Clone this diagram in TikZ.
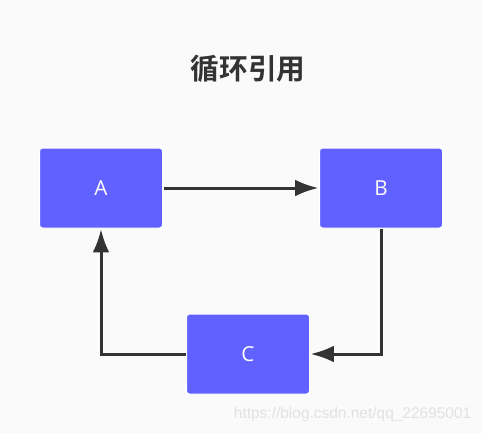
\documentclass[tikz,border=0pt]{standalone}
\usepackage{fontspec}
\setmainfont{Liberation Sans}
\newfontfamily\cjkbold{Noto Sans CJK SC Bold}
\newfontfamily\labelfont{Open Sans}
\usetikzlibrary{arrows.meta,positioning}
\definecolor{bg_gray}{HTML}{FAFAFA}
\definecolor{box_blue}{HTML}{6161FF}
\definecolor{line_dark}{HTML}{333333}
\definecolor{mark_gray}{HTML}{E2E2E2}
\tikzset{
  ref_box/.style={draw=white, line width=0.75pt, fill=box_blue, rounded corners=2.25pt,
    minimum width=92.25pt, minimum height=60pt, inner sep=0pt, outer sep=0.75pt,
    text=white, font=\labelfont\fontsize{15.5}{18}\selectfont},
  ref_arrow/.style={draw=line_dark, line width=2.25pt,
    -{Latex[length=17.5pt,width=12.5pt]}}
}
\begin{document}
\begin{tikzpicture}[x=0.75pt,y=-0.75pt]
    % background
  \fill[bg_gray] (0,0) rectangle (482,433);
  \useasboundingbox (0,0) rectangle (482,433);
    % title
  \node[text=line_dark, font=\cjkbold\fontsize{21.5}{24}\selectfont] (title) at (248,69) {循环引用};
    % boxes
  \node[ref_box] (obj_a) at (101,188) {A};
  \node[ref_box] (obj_b) at (381,188) {B};
  \node[ref_box] (obj_c) at (248,354) {C};
    % references
  \draw[ref_arrow] (obj_a.east) -- (obj_b.west);
  \draw[ref_arrow] (obj_b.south) |- (obj_c.east);
  \draw[ref_arrow] (obj_c.west) -| (obj_a.south);
    % watermark
  \node[text=mark_gray, font=\fontsize{11.6}{14}\selectfont, anchor=base east] (mark) at (476,418) {https://blog.csdn.net/qq\_22695001};
\end{tikzpicture}
\end{document}
